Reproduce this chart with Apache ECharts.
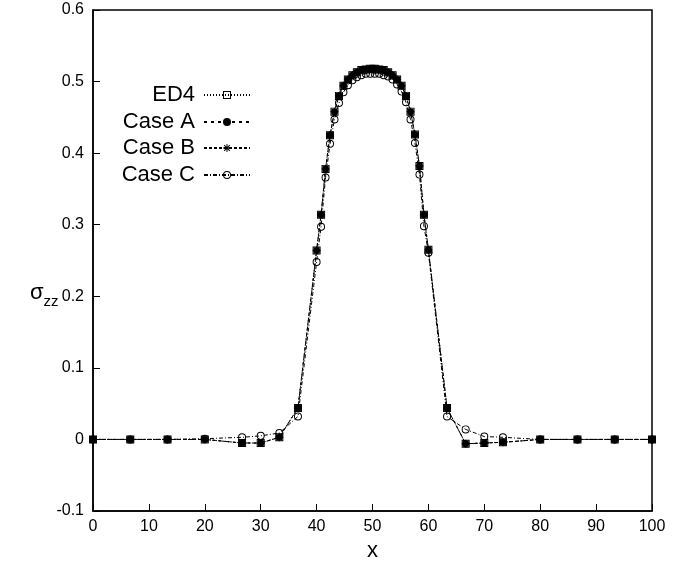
<!DOCTYPE html>
<html>
<head>
<meta charset="utf-8">
<script src="https://cdn.jsdelivr.net/npm/echarts@6/dist/echarts.min.js"></script>
<style>
html,body{margin:0;padding:0;background:#fff;}
#chart{width:694px;height:564px;}
</style>
</head>
<body>
<div id="chart"></div>
<script>
// x positions of the mesh
var xValues = [0, 6.667, 13.333, 20, 26.667, 30, 33.333, 36.667,
  40, 40.8, 41.6, 42.4, 43.2, 44, 44.8, 45.6, 46.4, 47.2, 48, 48.8, 49.6,
  50.4, 51.2, 52, 52.8, 53.6, 54.4, 55.2, 56, 56.8, 57.6, 58.4, 59.2, 60,
  63.333, 66.667, 70, 73.333, 80, 86.667, 93.333, 100];

var ed4 = [0, 0, 0, 0, -0.005, -0.005, 0.003, 0.044,
  0.264, 0.314, 0.378, 0.425, 0.458, 0.480, 0.494, 0.503, 0.509, 0.513, 0.516, 0.517, 0.518,
  0.518, 0.517, 0.516, 0.513, 0.509, 0.503, 0.494, 0.480, 0.458, 0.426, 0.382, 0.314, 0.265,
  0.044, -0.006, -0.005, -0.004, 0, 0, 0, 0];

var caseA = [0, 0, 0, 0, -0.005, -0.005, 0.003, 0.044,
  0.264, 0.314, 0.378, 0.425, 0.458, 0.480, 0.494, 0.503, 0.509, 0.513, 0.516, 0.517, 0.518,
  0.518, 0.517, 0.516, 0.513, 0.509, 0.503, 0.494, 0.480, 0.458, 0.426, 0.382, 0.314, 0.265,
  0.044, -0.006, -0.005, -0.004, 0, 0, 0, 0];

var caseB = [0, 0, 0, 0, -0.005, -0.005, 0.003, 0.044,
  0.264, 0.314, 0.378, 0.425, 0.458, 0.480, 0.494, 0.503, 0.509, 0.513, 0.516, 0.517, 0.518,
  0.518, 0.517, 0.516, 0.513, 0.509, 0.503, 0.494, 0.480, 0.458, 0.426, 0.382, 0.314, 0.265,
  0.044, -0.006, -0.005, -0.004, 0, 0, 0, 0];

var caseC = [0, 0, 0, 0.001, 0.003, 0.005, 0.009, 0.032,
  0.248, 0.297, 0.366, 0.413, 0.447, 0.470, 0.485, 0.495, 0.502, 0.506, 0.509, 0.511, 0.511,
  0.511, 0.511, 0.509, 0.507, 0.503, 0.496, 0.486, 0.471, 0.447, 0.414, 0.370, 0.298, 0.261,
  0.032, 0.014, 0.004, 0.003, 0, 0, 0, 0];

var seriesNames = ['ED4', 'Case A', 'Case B', 'Case C'];
var xTicks = [0, 10, 20, 30, 40, 50, 60, 70, 80, 90, 100];
var yTicks = [-0.1, 0, 0.1, 0.2, 0.3, 0.4, 0.5, 0.6];

function pairs(ys) { return xValues.map(function (x, i) { return [x, ys[i]]; }); }

var FONT = 'Liberation Sans, Arial, Helvetica, sans-serif';
var SYM_SQUARE = 'path://M-5,-5H5V5H-5Z M-3.8,-3.8V3.8H3.8V-3.8Z';
var SYM_RING = 'path://M0,-5A5,5,0,1,1,0,5A5,5,0,1,1,0,-5Z M0,-3.8A3.8,3.8,0,1,0,0,3.8A3.8,3.8,0,1,0,0,-3.8Z';
var SYM_STAR = 'path://M-5,-0.6H5V0.6H-5Z M-0.6,-5H0.6V5H-0.6Z M-3.08,-3.92L3.92,3.08L3.08,3.92L-3.92,-3.08Z M3.08,-3.92L3.92,-3.08L-3.08,3.92L-3.92,3.08Z';

var styles = [
  { sym: SYM_SQUARE, size: 8, dash: [1, 2] },
  { sym: 'circle', size: 7, dash: [3, 4] },
  { sym: SYM_STAR, size: 8, dash: [3, 2] },
  { sym: SYM_RING, size: 8, dash: [4, 2, 1, 2] }
];
var dataSets = [ed4, caseA, caseB, caseC];

var legendTops = [84, 111, 137, 164];

var chart = echarts.init(document.getElementById('chart'), null, { renderer: 'canvas' });
var option = {
  animation: false,
  backgroundColor: '#fff',
  textStyle: { fontFamily: FONT },
  title: {
    text: '{s|σ}{z|zz}',
    left: 30, top: 280, padding: 0,
    textStyle: {
      fontWeight: 'normal',
      rich: {
        s: { fontSize: 22, fontFamily: FONT, fontWeight: 'normal', color: '#000', lineHeight: 24, verticalAlign: 'bottom' },
        z: { fontSize: 15, fontFamily: FONT, fontWeight: 'normal', color: '#000', lineHeight: 24, verticalAlign: 'bottom', padding: [0, 0, -5, 0] }
      }
    }
  },
  grid: {
    left: 93, right: 42, top: 10, bottom: 53,
    outerBoundsMode: 'none', containLabel: false,
    show: true, borderColor: '#000', borderWidth: 1.5, backgroundColor: 'transparent'
  },
  legend: seriesNames.map(function (n, i) {
    return {
      data: [n], orient: 'vertical', align: 'right',
      right: 443, top: legendTops[i], padding: 0,
      itemWidth: 46, itemHeight: 10, itemGap: 0,
      selectedMode: false,
      textStyle: { fontSize: 22, color: '#000', fontFamily: FONT, padding: [0, 4, 0, 0] }
    };
  }),
  xAxis: {
    type: 'value', min: 0, max: 100, interval: 10,
    name: 'x', nameLocation: 'middle', nameGap: 28,
    nameTextStyle: { fontSize: 22, color: '#000', fontFamily: FONT },
    axisLine: { onZero: false, lineStyle: { color: '#000', width: 1.5 } },
    axisTick: { inside: true, length: 7, lineStyle: { color: '#000', width: 1 } },
    axisLabel: { fontSize: 16, color: '#000', margin: 8, fontFamily: FONT },
    splitLine: { show: false }
  },
  yAxis: {
    type: 'value', min: -0.1, max: 0.6, interval: 0.1,
    axisLine: { show: true, onZero: false, lineStyle: { color: '#000', width: 1.5 } },
    axisTick: { show: true, inside: true, length: 7, lineStyle: { color: '#000', width: 1 } },
    axisLabel: {
      fontSize: 16, color: '#000', margin: 9, fontFamily: FONT,
      formatter: function (v) { var r = Math.round(v * 10) / 10; return r === 0 ? '0' : r.toFixed(1); }
    },
    splitLine: { show: false }
  },
  series: seriesNames.map(function (n, i) {
    return {
      name: n, type: 'line', data: pairs(dataSets[i]),
      symbol: styles[i].sym, symbolSize: styles[i].size,
      showAllSymbol: true, clip: false,
      itemStyle: { color: '#000' },
      lineStyle: { color: '#000', width: 1, type: styles[i].dash },
      emphasis: { disabled: true }
    };
  })
};
chart.setOption(option);
</script>
</body>
</html>
